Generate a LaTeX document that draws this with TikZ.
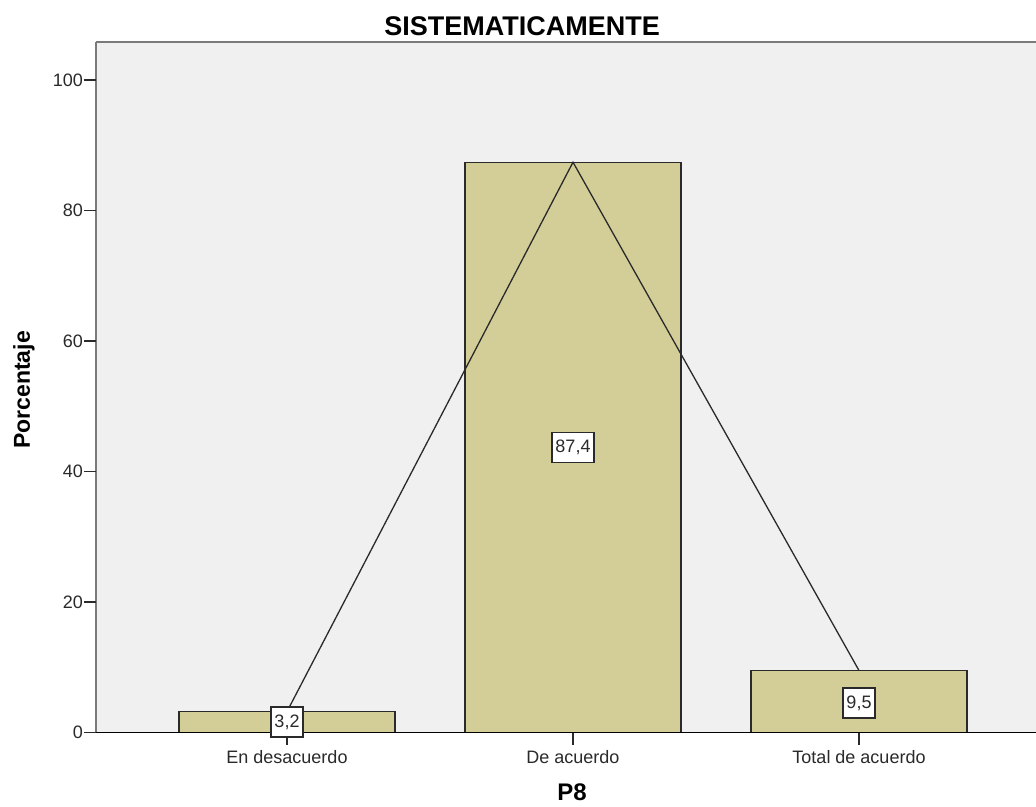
\documentclass[tikz,border=0pt]{standalone}
\usepackage{fontspec}
\setmainfont{Liberation Sans}
\definecolor{bggray}{HTML}{F0F0F0}
\definecolor{barfill}{HTML}{D3CE98}
\definecolor{framegray}{HTML}{7A7A7A}
\definecolor{inkdark}{HTML}{2A2A2A}
\begin{document}
\begin{tikzpicture}[x=1pt,y=-1pt,
  barbox/.style={fill=barfill,draw=inkdark,line width=1.4pt},
  trendline/.style={draw=inkdark,line width=1.3pt},
  datalabel/.style={fill=white,draw=inkdark,line width=1.3pt,inner xsep=3.5pt,inner ysep=0pt,minimum height=30pt,font=\fontsize{18}{20}\selectfont,text=inkdark},
  ticklabel/.style={font=\fontsize{18}{20}\selectfont,text=inkdark},
  axistitle/.style={font=\bfseries\fontsize{23}{26}\selectfont,text=black},
  tickmark/.style={draw=inkdark,line width=1.3pt}]
\useasboundingbox (0,0) rectangle (1036,806);
\fill[white] (0,0) rectangle (1036,806);
% plot area
\fill[bggray] (96,42) rectangle (1036,733);
\draw[framegray,line width=2.2pt] (96,42) -- (1036,42);
\draw[framegray,line width=1.6pt] (96,42) -- (96,733);
% bars
\draw[barbox] (179,732.5) rectangle (395,711.6);
\draw[barbox] (465,732.5) rectangle (681,162.2);
\draw[barbox] (751,732.5) rectangle (967,670.5);
% x axis
\draw[black,line width=1.6pt] (96,732.5) -- (1036,732.5);
% y ticks
\foreach \v/\yy in {0/732.5,20/602,40/471.5,60/341,80/210.5,100/80}{
  \draw[tickmark] (84,\yy) -- (96,\yy);
  \node[ticklabel,anchor=east,inner sep=0pt] (yt\v) at (83,\yy) {\v};
}
% x ticks and labels
\foreach \xx/\lab/\n in {287/En desacuerdo/a,573/De acuerdo/b,859/Total de acuerdo/c}{
  \draw[tickmark] (\xx,732.5) -- (\xx,745);
  \node[ticklabel,anchor=base,inner sep=0pt] (xl\n) at (\xx,763) {\lab};
}
% trend line
\coordinate (p1) at (287,711.6);
\coordinate (p2) at (573,162.2);
\coordinate (p3) at (859,670.5);
\draw[trendline] (p1) -- (p2) -- (p3);
% data labels
\node[datalabel] (l1) at (287,722.1) {3,2};
\node[datalabel] (l2) at (573,447.4) {87,4};
\node[datalabel] (l3) at (859,703) {9,5};
% titles
\node[anchor=base,inner sep=0pt,font=\bfseries\fontsize{27}{30}\selectfont] (title) at (522,35) {SISTEMATICAMENTE};
\node[axistitle,anchor=base,inner sep=0pt,font=\bfseries\fontsize{24}{26}\selectfont] (xtitle) at (572,800) {P8};
\node[axistitle,rotate=90,inner sep=0pt] (ytitle) at (24,390) {Porcentaje};
\end{tikzpicture}
\end{document}
